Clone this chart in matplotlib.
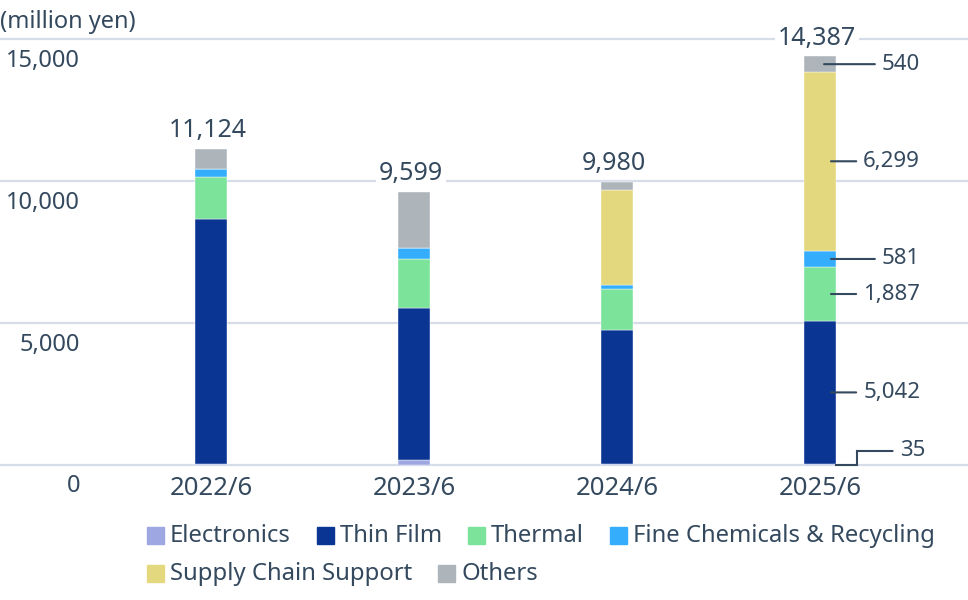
import numpy as np
import matplotlib.pyplot as plt
from matplotlib.patches import Rectangle

plt.rcParams['font.family'] = ['Noto Sans', 'DejaVu Sans']

# values in million yen
years = ['2022/6', '2023/6', '2024/6', '2025/6']
segments = ['Electronics', 'Thin Film', 'Thermal',
            'Fine Chemicals & Recycling', 'Supply Chain Support', 'Others']
electronics = [30, 180, 50, 35]
thin_film = [8630, 5350, 4690, 5042]
thermal = [1480, 1730, 1460, 1887]
fine_chem = [280, 390, 150, 581]
supply_chain = [0, 0, 3320, 6299]
others = [704, 1949, 310, 540]
totals = [11124, 9599, 9980, 14387]
y_ticks = [0, 5000, 10000, 15000]

colors = ['#9ea7e2', '#0a3592', '#7ce39a', '#35adfd', '#e3d87e', '#adb5bb']
text_color = '#34495e'
grid_color = '#d6dde9'

W, H = 968, 600
fig = plt.figure(figsize=(W / 100, H / 100), dpi=100)
ax = fig.add_axes([0, 135 / H, 1, 426 / H])
ax.set_xlim(-1.039, 3.729)
ax.set_ylim(0, 15000)
ax.axis('off')

for v in y_ticks:
    ax.axhline(v, color=grid_color, lw=1.6, zorder=0, clip_on=False)
    ax.annotate(f'{v:,}', xy=(80 / W, v), xycoords=('axes fraction', 'data'),
                xytext=(0, -19.8), textcoords='offset points',
                ha='right', va='baseline', fontsize=17, color=text_color)

x = np.arange(len(years))
width = 0.158
series = [electronics, thin_film, thermal, fine_chem, supply_chain, others]
bottom = np.zeros(len(years))
for vals, c in zip(series, colors):
    ax.bar(x, vals, width, bottom=bottom, color=c, zorder=2,
           edgecolor='white', linewidth=0.3)
    bottom += np.array(vals)

for i, yr in enumerate(years):
    ax.annotate(yr, xy=(i, 0), xytext=(0, -21.6), textcoords='offset points',
                ha='center', va='baseline', fontsize=18.5, color=text_color)
    ax.annotate(f'{totals[i]:,}', xy=(i, bottom[i]), xytext=(-2, 8.6),
                textcoords='offset points', ha='center', va='baseline',
                fontsize=18, color=text_color, zorder=4,
                bbox=dict(facecolor='white', edgecolor='none', pad=2))

# segment callouts for the latest year
last = len(years) - 1
cum = np.cumsum([s[last] for s in series])
starts = cum - np.array([s[last] for s in series])
label_x = last + 0.493
for k in range(1, len(series)):
    mid = (starts[k] + cum[k]) / 2
    x0 = last + (0.02 if k == len(series) - 1 else 0.054)
    ax.annotate(f'{series[k][last]:,}', xy=(x0, mid), xytext=(label_x, mid),
                ha='right', va='center', fontsize=16, color=text_color,
                zorder=5,
                arrowprops=dict(arrowstyle='-', color=text_color, lw=1.5,
                                shrinkA=3, shrinkB=0))

# elbow callout for the tiny Electronics slice
edge = last + width / 2
corner = last + 0.182
elbow_y = 493
ax.plot([edge, corner, corner], [0, 0, elbow_y], color=text_color, lw=1.5,
        zorder=5, clip_on=False, solid_joinstyle='miter')
ax.annotate(f'{electronics[last]:,}', xy=(corner, elbow_y),
            xytext=(last + 0.517, elbow_y), ha='right', va='center',
            fontsize=16, color=text_color, zorder=5,
            arrowprops=dict(arrowstyle='-', color=text_color, lw=1.5,
                            shrinkA=3, shrinkB=0))

fig.text(0, 1 - 28 / H, '(million yen)', ha='left', va='baseline',
         fontsize=17, color=text_color)

# legend laid out in flowing rows
fig.canvas.draw()
renderer = fig.canvas.get_renderer()
rows = [535.5, 573.5]
cx, row = 147, 0
for i, (name, c) in enumerate(zip(segments, colors)):
    if i == 4:
        cx, row = 147, 1
    yc = rows[row]
    fig.patches.append(Rectangle((cx / W, 1 - (yc + 8.5) / H), 17 / W, 17 / H,
                                 transform=fig.transFigure, color=c))
    t = fig.text((cx + 23) / W, 1 - yc / H, name, ha='left', va='center',
                 fontsize=17.2, color=text_color)
    w = t.get_window_extent(renderer).width
    cx += 23 + w + 26

fig.savefig('out.png', dpi=100)
